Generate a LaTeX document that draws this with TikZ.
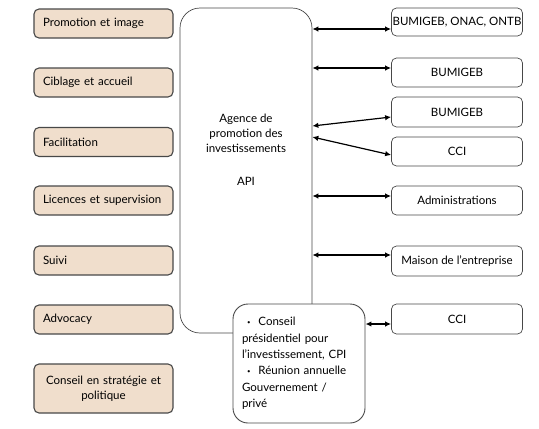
\documentclass[tikz,border=0pt]{standalone}
\usepackage{fontspec}
\setmainfont{Lato}
\usetikzlibrary{arrows.meta,positioning}
\definecolor{BoxBeige}{RGB}{240,222,204}
\definecolor{EdgeGray}{RGB}{72,72,72}
\newcommand{\cpibullet}{\hspace*{5pt}\raisebox{1.5pt}{\fontsize{6}{6}\selectfont\textbullet}\hspace{8pt}}

\begin{document}
\begin{tikzpicture}[x=1pt,y=-1pt,
    role/.style={draw=EdgeGray, line width=1.1pt, fill=BoxBeige, rounded corners=5pt,
      minimum height=29pt, text width=121pt, inner xsep=9pt, align=left,
      font=\fontsize{11.5}{15}\selectfont},
    partner/.style={draw=EdgeGray, line width=0.7pt, rounded corners=5pt,
      minimum width=131pt, minimum height=29pt, inner xsep=1pt, align=center,
      font=\fontsize{11.5}{15}\selectfont},
    link/.style={{Latex[length=6pt,width=5.5pt]}-{Latex[length=6pt,width=5.5pt]}, line width=1.2pt}]
  \useasboundingbox (0,0) rectangle (539,429);
  \node[role] (promo) at (103.5,23.5) {Promotion et image};
  \node[role] (cible) at (103.5,82.5) {Ciblage et accueil};
  \node[role] (facil) at (103.5,142) {Facilitation};
  \node[role] (licen) at (103.5,200.5) {Licences et supervision};
  \node[role] (suivi) at (103.5,260.5) {Suivi};
  \node[role] (advoc) at (103.5,319.5) {Advocacy};
  \node[role, align=center, minimum height=49pt] (strat) at (103.5,388.5) {Conseil en stratégie et\\politique};
  \node[draw=EdgeGray, line width=0.7pt, rounded corners=20pt, minimum width=132pt, minimum height=325pt] (api) at (246,170.5) {};
  \node[anchor=north, align=center, font=\fontsize{11.5}{15}\selectfont] (apiname) at (246,110) {Agence de\\promotion des\\investissements\\[18pt]API};
  \node[draw=EdgeGray, line width=0.9pt, fill=white, rounded corners=15pt, minimum width=132pt, minimum height=119pt,
    text width=114pt, inner xsep=9pt, align=left, font=\fontsize{11.5}{16.4}\selectfont] (cpi) at (299,363.5)
    {\cpibullet Conseil\\présidentiel pour\\l'investissement, CPI\\\cpibullet Réunion annuelle\\Gouvernement /\\privé};
  \node[partner, minimum height=28pt] (onac) at (457,22) {BUMIGEB, ONAC, ONTB};
  \node[partner] (bumi) at (457,72.5) {BUMIGEB};
  \node[partner, minimum height=30pt] (bumitwo) at (457,112) {BUMIGEB};
  \node[partner] (cci) at (457,151.5) {CCI};
  \node[partner] (admin) at (457,200.5) {Administrations};
  \node[partner, minimum height=30pt] (maison) at (457,261) {Maison de l'entreprise};
  \node[partner, minimum height=30pt] (ccitwo) at (457,319) {CCI};
  \coordinate (onacin) at ([yshift=-7pt]onac.west);
  \coordinate (bumiin) at ([yshift=4.5pt]bumi.west);
  \coordinate (adminin) at ([yshift=4.5pt]admin.west);
  \coordinate (maisonin) at ([yshift=6pt]maison.west);
  \coordinate (ccitwoin) at ([yshift=-5pt]ccitwo.west);
  \draw[link] (onacin -| api.east) -- (onacin);
  \draw[link] (bumiin -| api.east) -- (bumiin);
  \draw[link] ([yshift=44.5pt]api.east) -- ([yshift=-5pt]bumitwo.west);
  \draw[link] ([yshift=33.5pt]api.east) -- ([yshift=-3.5pt]cci.west);
  \draw[link] (adminin -| api.east) -- (adminin);
  \draw[link] (maisonin -| api.east) -- (maisonin);
  \draw[link] (ccitwoin -| cpi.east) -- (ccitwoin);
\end{tikzpicture}
\end{document}
